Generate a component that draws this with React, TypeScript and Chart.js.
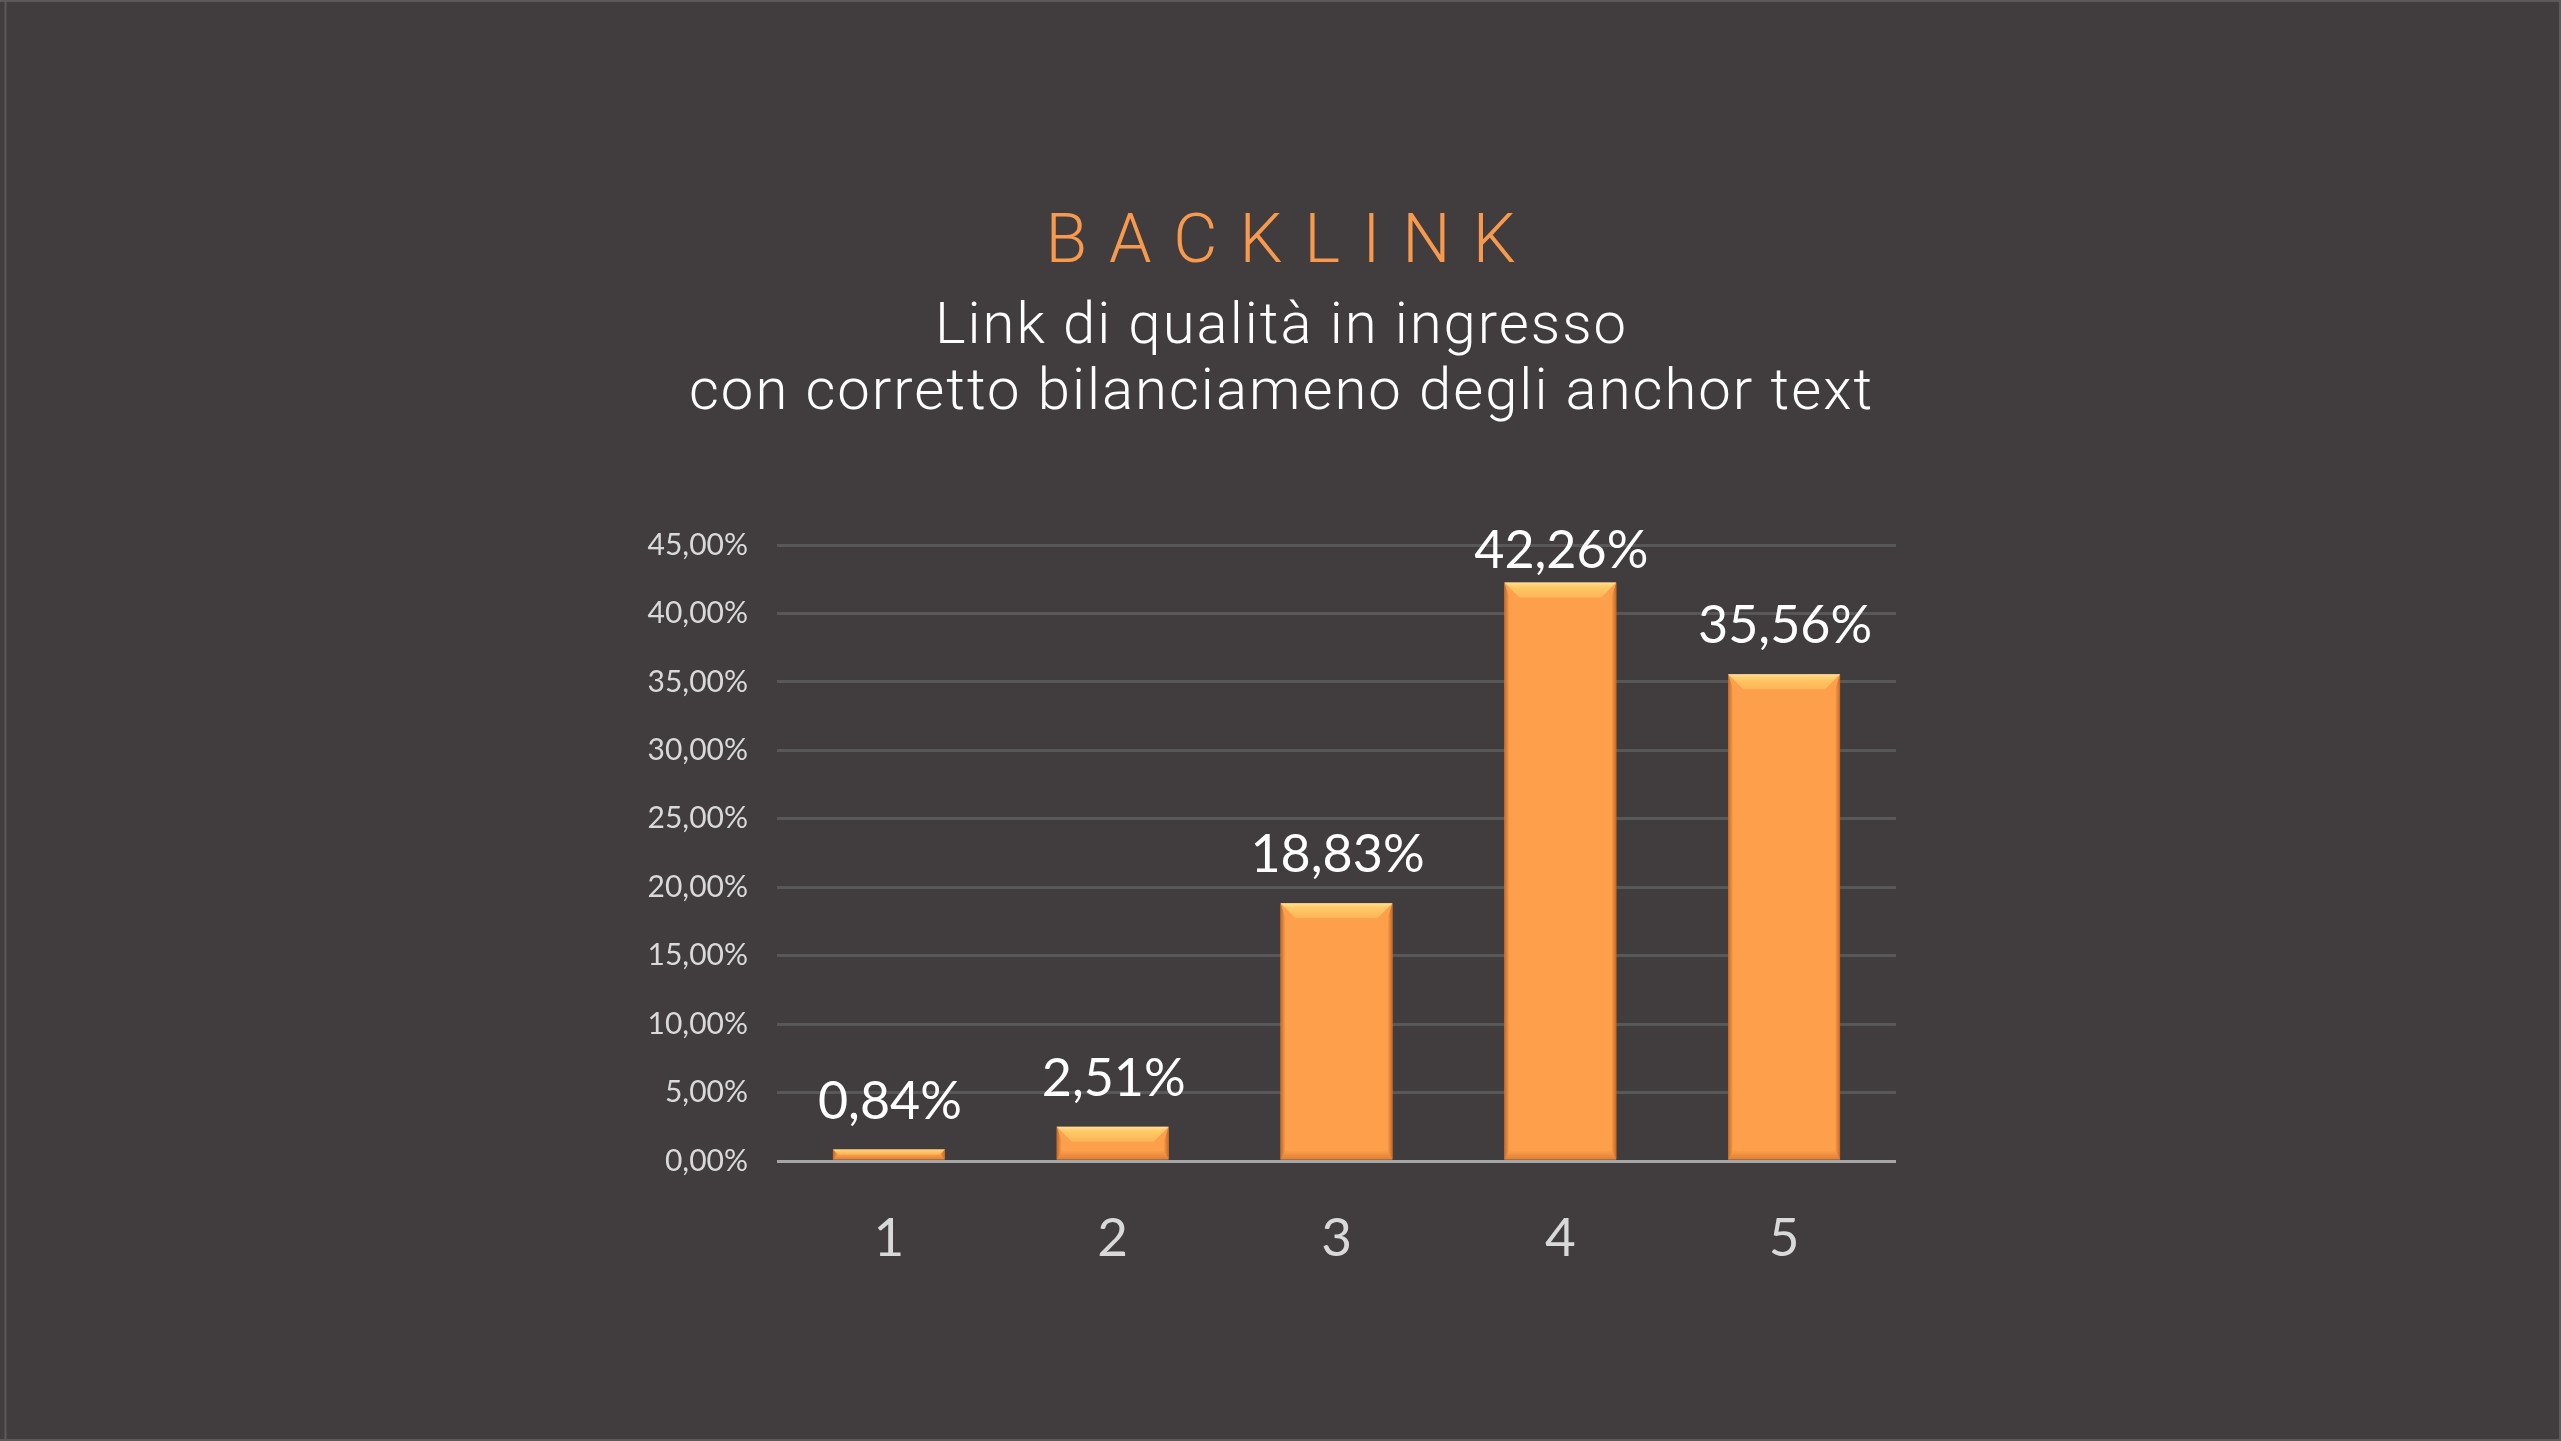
import React, { useEffect, useRef } from "react";
import { Chart, registerables } from "chart.js";

Chart.register(...registerables);

// ---- data ----
const TITLE = "BACKLINK";
const SUBTITLE_LINES = ["Link di qualità in ingresso", "con corretto bilanciameno degli anchor text"];
const CATEGORIES = ["1", "2", "3", "4", "5"];
const VALUES = [0.84, 2.51, 18.83, 42.26, 35.56];
const Y_MIN = 0;
const Y_MAX = 45;
const Y_STEP = 5;

// ---- style ----
const W = 2561;
const H = 1441;
const BG = "#413d3e";
const TITLE_COLOR = "#f79a4e";
const BAR_COLOR = "#fe9f4c";
const TICK_COLOR = "#d9d9d9";
const GRID_COLOR = "#585858";
const ZERO_COLOR = "#a6a6a6";

const fmt = (v: number) => v.toFixed(2).replace(".", ",") + "%";

const backgroundPlugin = {
  id: "bg",
  beforeDraw(chart: any) {
    const ctx = chart.ctx as CanvasRenderingContext2D;
    ctx.save();
    ctx.fillStyle = BG;
    ctx.fillRect(0, 0, chart.width, chart.height);
    ctx.strokeStyle = "#5c595a";
    ctx.lineWidth = 2;
    ctx.beginPath();
    ctx.moveTo(0, 1);
    ctx.lineTo(chart.width, 1);
    ctx.moveTo(5.5, 0);
    ctx.lineTo(5.5, chart.height);
    ctx.moveTo(chart.width - 1, 0);
    ctx.lineTo(chart.width - 1, chart.height);
    ctx.moveTo(0, chart.height - 1);
    ctx.lineTo(chart.width, chart.height - 1);
    ctx.stroke();
    ctx.restore();
  },
};

const titlePlugin = {
  id: "titles",
  afterDraw(chart: any) {
    const ctx = chart.ctx as any;
    const cx = chart.width / 2;
    ctx.save();
    ctx.textAlign = "center";
    ctx.textBaseline = "alphabetic";
    ctx.fillStyle = TITLE_COLOR;
    ctx.font = "300 68px Roboto";
    ctx.letterSpacing = "22px";
    ctx.fillText(TITLE, cx + 11, 262);
    ctx.fillStyle = "#ffffff";
    ctx.font = "300 58px Roboto";
    ctx.letterSpacing = "2px";
    ctx.fillText(SUBTITLE_LINES[0], cx + 1, 343);
    ctx.fillText(SUBTITLE_LINES[1], cx + 1, 409);
    ctx.letterSpacing = "0px";
    ctx.restore();
  },
};

const bevelPlugin = {
  id: "bevel",
  afterDatasetsDraw(chart: any) {
    const ctx = chart.ctx as CanvasRenderingContext2D;
    const meta = chart.getDatasetMeta(0);
    ctx.save();
    meta.data.forEach((el: any) => {
      const { x, y, base, width } = el.getProps(["x", "y", "base", "width"], true);
      const l = x - width / 2;
      const r = x + width / 2;
      const t = Math.min(y, base);
      const b = Math.max(y, base);
      const h = b - t;
      const bt = Math.min(15, h / 2);
      const bs = Math.min(5, width / 2);
      const bb = Math.min(9, h / 2);

      // top bevel
      let g = ctx.createLinearGradient(0, t, 0, t + bt);
      g.addColorStop(0, "#ffe09a");
      g.addColorStop(0.3, "#ffca66");
      g.addColorStop(1, "#fdb458");
      ctx.fillStyle = g;
      ctx.beginPath();
      ctx.moveTo(l, t);
      ctx.lineTo(r, t);
      ctx.lineTo(r - bt, t + bt);
      ctx.lineTo(l + bt, t + bt);
      ctx.closePath();
      ctx.fill();

      // left side
      g = ctx.createLinearGradient(l, 0, l + bs, 0);
      g.addColorStop(0, "rgba(185,95,30,0.85)");
      g.addColorStop(1, "rgba(185,95,30,0)");
      ctx.fillStyle = g;
      ctx.beginPath();
      ctx.moveTo(l, t);
      ctx.lineTo(l + bs, t + bt);
      ctx.lineTo(l + bs, b - bb);
      ctx.lineTo(l, b);
      ctx.closePath();
      ctx.fill();

      // right side
      g = ctx.createLinearGradient(r, 0, r - bs, 0);
      g.addColorStop(0, "rgba(185,95,30,0.85)");
      g.addColorStop(1, "rgba(185,95,30,0)");
      ctx.fillStyle = g;
      ctx.beginPath();
      ctx.moveTo(r, t);
      ctx.lineTo(r - bs, t + bt);
      ctx.lineTo(r - bs, b - bb);
      ctx.lineTo(r, b);
      ctx.closePath();
      ctx.fill();

      // bottom
      g = ctx.createLinearGradient(0, b - bb, 0, b);
      g.addColorStop(0, "rgba(200,105,35,0)");
      g.addColorStop(1, "rgba(200,105,35,0.6)");
      ctx.fillStyle = g;
      ctx.beginPath();
      ctx.moveTo(l, b);
      ctx.lineTo(r, b);
      ctx.lineTo(r - bs, b - bb);
      ctx.lineTo(l + bs, b - bb);
      ctx.closePath();
      ctx.fill();
    });
    ctx.restore();
  },
};

const labelPlugin = {
  id: "valueLabels",
  afterDatasetsDraw(chart: any) {
    const ctx = chart.ctx as CanvasRenderingContext2D;
    const meta = chart.getDatasetMeta(0);
    const top = chart.chartArea.top;
    ctx.save();
    ctx.font = "52px Lato";
    ctx.fillStyle = "#ffffff";
    ctx.textAlign = "center";
    ctx.textBaseline = "alphabetic";
    meta.data.forEach((el: any, i: number) => {
      const { x, y } = el.getProps(["x", "y"], true);
      const by = Math.max(y - 31, top + 23);
      ctx.fillText(fmt(VALUES[i]), x + 1, by);
    });
    ctx.restore();
  },
};

export default function App() {
  const ref = useRef<HTMLCanvasElement | null>(null);

  useEffect(() => {
    document.body.style.margin = "0";
    document.body.style.overflow = "hidden";
    const canvas = ref.current;
    if (!canvas) return;
    const chart = new Chart(canvas, {
      type: "bar",
      data: {
        labels: CATEGORIES,
        datasets: [
          {
            data: VALUES,
            backgroundColor: BAR_COLOR,
            borderWidth: 0,
            barPercentage: 0.5,
            categoryPercentage: 1,
          },
        ],
      },
      options: {
        responsive: false,
        animation: false,
        devicePixelRatio: 1,
        layout: { padding: { left: 0, right: 665, top: 545, bottom: 0 } },
        plugins: {
          legend: { display: false },
          tooltip: { enabled: false },
          title: { display: false },
        },
        scales: {
          x: {
            grid: { display: false },
            border: { display: false },
            ticks: {
              color: TICK_COLOR,
              font: { family: "Lato", size: 53 },
              padding: 38,
            },
            afterFit: (s: any) => {
              s.height = 280;
            },
          },
          y: {
            min: Y_MIN,
            max: Y_MAX,
            ticks: {
              stepSize: Y_STEP,
              color: TICK_COLOR,
              font: { family: "Lato", size: 30 },
              padding: 29,
              callback: (v: any) => fmt(Number(v)),
            },
            grid: {
              color: (c: any) => (c.tick && c.tick.value === 0 ? ZERO_COLOR : GRID_COLOR),
              lineWidth: 3,
              drawTicks: false,
            },
            border: { display: false },
            afterFit: (s: any) => {
              s.width = 777;
            },
          },
        },
      } as any,
      plugins: [backgroundPlugin, bevelPlugin, labelPlugin, titlePlugin],
    });
    return () => chart.destroy();
  }, []);

  return (
    <div style={{ width: W, height: H, background: BG }}>
      <canvas ref={ref} width={W} height={H} style={{ display: "block", width: W, height: H }} />
    </div>
  );
}
